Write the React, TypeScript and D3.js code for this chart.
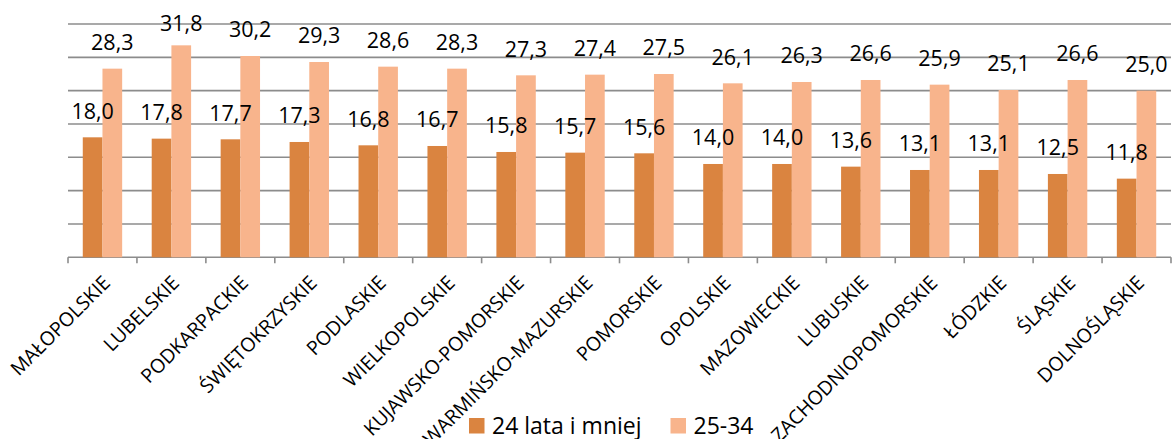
import React from "react";
import * as d3 from "d3";

const categories = [
  "MAŁOPOLSKIE",
  "LUBELSKIE",
  "PODKARPACKIE",
  "ŚWIĘTOKRZYSKIE",
  "PODLASKIE",
  "WIELKOPOLSKIE",
  "KUJAWSKO-POMORSKIE",
  "WARMIŃSKO-MAZURSKIE",
  "POMORSKIE",
  "OPOLSKIE",
  "MAZOWIECKIE",
  "LUBUSKIE",
  "ZACHODNIOPOMORSKIE",
  "ŁÓDZKIE",
  "ŚLĄSKIE",
  "DOLNOŚLĄSKIE",
];
const young = [18.0, 17.8, 17.7, 17.3, 16.8, 16.7, 15.8, 15.7, 15.6, 14.0, 14.0, 13.6, 13.1, 13.1, 12.5, 11.8];
const older = [28.3, 31.8, 30.2, 29.3, 28.6, 28.3, 27.3, 27.4, 27.5, 26.1, 26.3, 26.6, 25.9, 25.1, 26.6, 25.0];
const seriesNames = ["24 lata i mniej", "25-34"];
const yTicks = [0, 5, 10, 15, 20, 25, 30, 35];

const colors = ["#DA8440", "#F8B48C"];
const W = 1172;
const H = 439;
const FONT = "'Open Sans', 'DejaVu Sans', sans-serif";

export default function App() {
  const x0 = 68;
  const x1 = 1171;
  const yBase = 257.3;
  const yTop = 24;
  const x = d3.scaleBand<string>().domain(categories).range([x0, x1]).paddingInner(0.4286).paddingOuter(0.2143);
  const xs = d3.scaleBand<number>().domain([0, 1]).range([0, x.bandwidth()]).padding(0);
  const y = d3.scaleLinear().domain([0, 35]).range([yBase, yTop]);
  const step = x.step();
  const series = [young, older];
  const fmt = (v: number) => v.toFixed(1).replace(".", ",");

  return (
    <div style={{ position: "absolute", left: 0, top: 0, width: W, height: H, background: "#fff" }}>
      <svg width={W} height={H} style={{ display: "block" }} fontFamily={FONT}>
        {yTicks.map((t) => (
          <line key={t} x1={x0} x2={x1} y1={y(t)} y2={y(t)} stroke="#8c8c8c" strokeWidth={1.6} />
        ))}
        {d3.range(categories.length + 1).map((i) => (
          <line key={i} x1={x0 + i * step} x2={x0 + i * step} y1={yBase} y2={yBase + 6} stroke="#8c8c8c" strokeWidth={1.6} />
        ))}
        {categories.map((c, i) =>
          series.map((s, k) => {
            const bx = (x(c) as number) + (xs(k) as number);
            const by = y(s[i]);
            return <rect key={c + k} x={bx} y={by} width={xs.bandwidth()} height={yBase - by} fill={colors[k]} />;
          })
        )}
        {categories.map((c, i) =>
          series.map((s, k) => {
            const bx = (x(c) as number) + (xs(k) as number);
            const by = y(s[i]);
            return (
              <text
                key={c + "l" + k}
                x={bx + xs.bandwidth() / 2}
                y={Math.max(by - 18.5, 31)}
                textAnchor="middle"
                fontSize={21.5}
                fill="#000"
              >
                {fmt(s[i])}
              </text>
            );
          })
        )}
        {categories.map((c) => (
          <text
            key={c + "x"}
            transform={`translate(${(x(c) as number) + x.bandwidth() / 2 + 9},${284}) rotate(-45)`}
            textAnchor="end"
            fontSize={19.5}
            fill="#000"
          >
            {c}
          </text>
        ))}
        {seriesNames.map((n, k) => {
          const lx = k === 0 ? 469 : 670.5;
          return (
            <g key={n}>
              <rect x={lx} y={418} width={15.5} height={15.5} fill={colors[k]} />
              <text x={lx + 23} y={433.5} fontSize={23} fill="#000">
                {n}
              </text>
            </g>
          );
        })}
      </svg>
    </div>
  );
}
